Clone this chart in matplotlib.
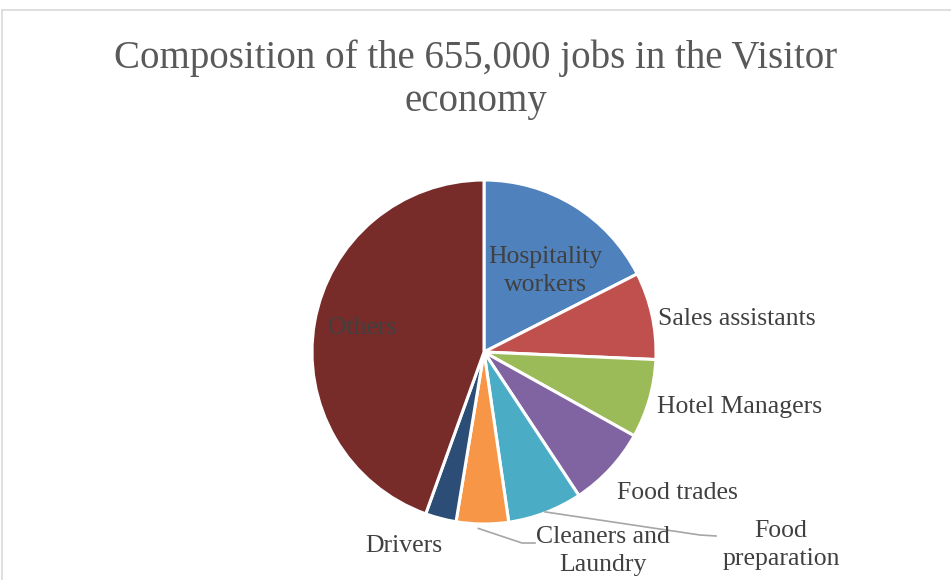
import matplotlib.pyplot as plt
import numpy as np

# share of the 655,000 visitor-economy jobs, percent
categories = ['Hospitality workers', 'Sales assistants', 'Hotel Managers', 'Food trades',
              'Food preparation', 'Cleaners and Laundry', 'Drivers', 'Others']
shares = [17.5, 8.2, 7.4, 7.6, 7.0, 4.9, 2.9, 44.5]
colors = ['#4F81BD', '#C0504D', '#9BBB59', '#8064A2',
          '#4BACC6', '#F79646', '#2C4D75', '#772C2A']

W, H = 951, 580
fig = plt.figure(figsize=(W / 100, H / 100), dpi=100)
ax = fig.add_axes([0, 0, 1, 1])

cx, cy, r = 484, H - 352, 172
wedges, _ = ax.pie(shares, colors=colors, startangle=90, counterclock=False,
                   center=(cx, cy), radius=r, frame=True,
                   wedgeprops={'edgecolor': 'white', 'linewidth': 2.2})
ax.set_xlim(0, W)
ax.set_ylim(0, H)
ax.set_aspect('equal')
ax.axis('off')

serif = ['Liberation Serif', 'DejaVu Serif']
txt = '#404040'
fs = 18.5
ls = 1.3

ax.text(W / 2, H - 80, 'Composition of the 655,000 jobs in the Visitor\neconomy',
        ha='center', va='center', fontsize=28, family=serif, color='#595959',
        linespacing=1.2)


def edge_point(w, frac=1.0):
    mid = np.deg2rad((w.theta1 + w.theta2) / 2)
    return cx + r * frac * np.cos(mid), cy + r * frac * np.sin(mid)


ax.text(545, H - 271, 'Hospitality\nworkers', ha='center', va='center',
        fontsize=fs, family=serif, color=txt, linespacing=ls)
ax.text(658, H - 319, 'Sales assistants', ha='left', va='center',
        fontsize=fs, family=serif, color=txt)
ax.text(657, H - 407, 'Hotel Managers', ha='left', va='center',
        fontsize=fs, family=serif, color=txt)
ax.text(617, H - 493, 'Food trades', ha='left', va='center',
        fontsize=fs, family=serif, color=txt)
ax.text(362, H - 328, 'Others', ha='center', va='center',
        fontsize=fs, family=serif, color=txt)
ax.text(404, H - 546, 'Drivers', ha='center', va='center',
        fontsize=fs, family=serif, color=txt)

# leader lines for the two small bottom slices
ax.text(781, H - 545, 'Food\npreparation', ha='center', va='center',
        fontsize=fs, family=serif, color=txt, linespacing=ls)
x0, y0 = edge_point(wedges[4], 0.995)
ax.plot([x0, 700, 716], [y0, H - 535, H - 536], color='#A6A6A6', lw=1.2)

ax.text(603, H - 551, 'Cleaners and\nLaundry', ha='center', va='center',
        fontsize=fs, family=serif, color=txt, linespacing=ls)
x1, y1 = edge_point(wedges[5], 1.02)
ax.plot([x1 - 4, 522, 535], [y1 - 1, H - 543, H - 543], color='#A6A6A6', lw=1.2)

# chart-area border (only top and left are inside the crop)
ax.plot([2, W], [H - 10, H - 10], color='#D9D9D9', lw=1.2, clip_on=False)
ax.plot([2, 2], [H - 10, 0], color='#D9D9D9', lw=1.2, clip_on=False)

fig.savefig('out.png', dpi=100)
